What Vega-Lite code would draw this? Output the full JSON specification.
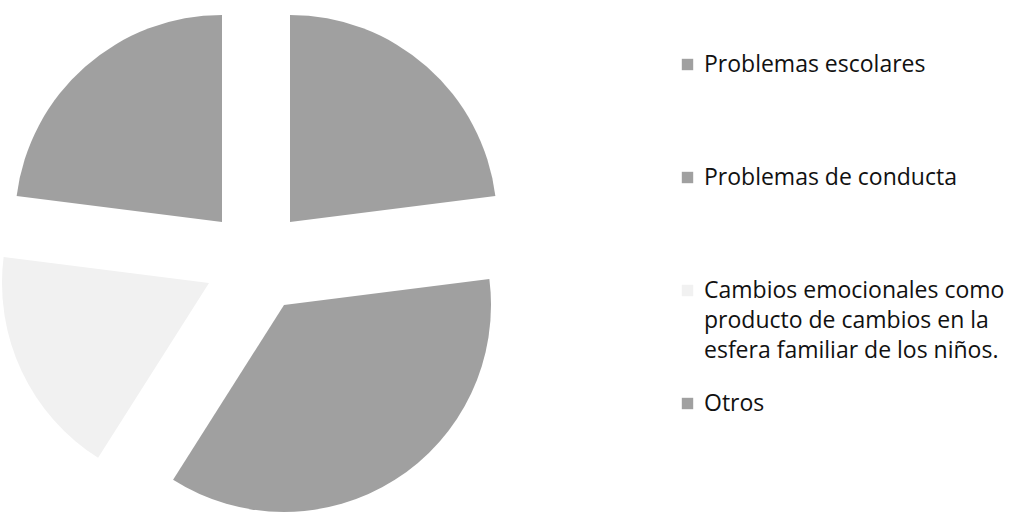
{
  "$schema": "https://vega.github.io/schema/vega-lite/v6.json",
  "width": 512,
  "height": 522,
  "padding": 0,
  "autosize": {"type": "pad"},
  "background": "white",
  "config": {"view": {"stroke": null}, "style": {"guide-label": {"lineHeight": 30}}},
  "data": {"values": [
    {"categoria": "Problemas escolares", "valor": 23, "orden": 1},
    {"categoria": "Problemas de conducta", "valor": 36, "orden": 2},
    {"categoria": "Cambios emocionales como producto de cambios en la esfera familiar de los niños.", "valor": 18, "orden": 3},
    {"categoria": "Otros", "valor": 23, "orden": 4}
  ]},
  "transform": [
    {"stack": "valor", "groupby": [], "sort": [{"field": "orden", "order": "ascending"}], "as": ["v0", "v1"]}
  ],
  "encoding": {
    "theta": {"field": "v0", "type": "quantitative", "scale": {"domain": [0, 100], "range": [0, 6.283185]}},
    "theta2": {"field": "v1"},
    "color": {
      "field": "categoria", "type": "nominal",
      "scale": {
        "domain": ["Problemas escolares", "Problemas de conducta", "Cambios emocionales como producto de cambios en la esfera familiar de los niños.", "Otros"],
        "range": ["#a0a0a0", "#a0a0a0", "#f1f1f1", "#a0a0a0"]
      },
      "legend": {
        "title": null,
        "orient": "none",
        "legendX": 676,
        "legendY": 53,
        "symbolType": "square",
        "symbolSize": 130,
        "symbolStrokeWidth": 0,
        "labelFont": "Open Sans",
        "labelFontSize": 23,
        "labelColor": "#111111",
        "labelLimit": 0,
        "labelOffset": 5,
        "rowPadding": 29,
        "labelExpr": "datum.label == 'Otros' ? datum.label : datum.label == 'Problemas escolares' ? ['Problemas escolares', '', ''] : datum.label == 'Problemas de conducta' ? ['Problemas de conducta', '', ''] : ['Cambios emocionales como', 'producto de cambios en la', 'esfera familiar de los niños.']"
      }
    }
  },
  "layer": [
    {"transform": [{"filter": "datum.orden == 1"}], "mark": {"type": "arc", "radius": 207, "xOffset": 34, "yOffset": -39}},
    {"transform": [{"filter": "datum.orden == 2"}], "mark": {"type": "arc", "radius": 207, "xOffset": 28, "yOffset": 44}},
    {"transform": [{"filter": "datum.orden == 3"}], "mark": {"type": "arc", "radius": 207, "xOffset": -47, "yOffset": 22}},
    {"transform": [{"filter": "datum.orden == 4"}], "mark": {"type": "arc", "radius": 207, "xOffset": -34, "yOffset": -39}}
  ]
}
